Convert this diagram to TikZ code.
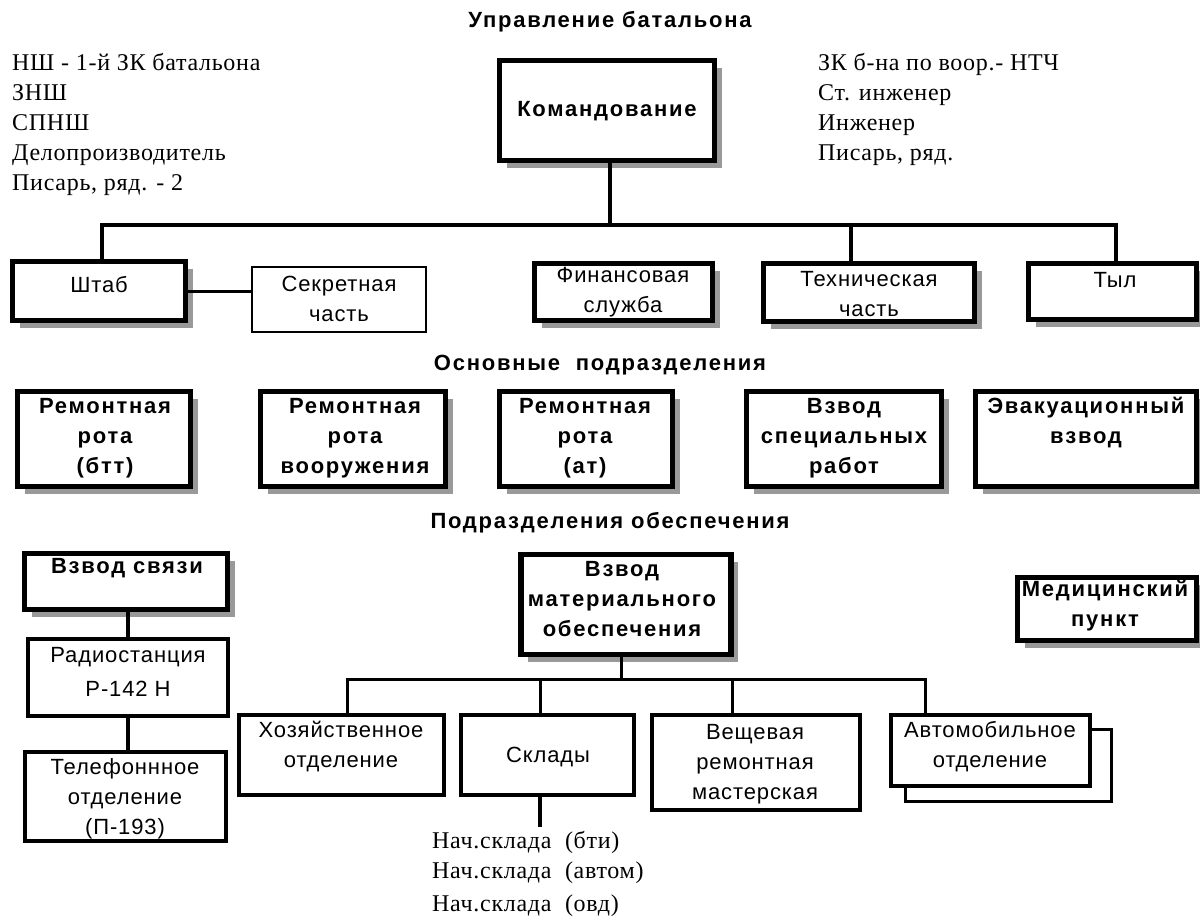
\documentclass[tikz,border=0pt]{standalone}
\usepackage{fontspec}
\setmainfont[LetterSpace=3]{Liberation Serif}
\newfontfamily\bsans[LetterSpace=8]{Liberation Sans}
\newfontfamily\rsans[LetterSpace=4]{Liberation Sans}
\usetikzlibrary{shadows}
\tikzset{
  shad/.style={drop shadow={shadow xshift=7pt, shadow yshift=-7pt, fill=black!40, opacity=1}},
  bx/.style={draw=black, fill=white, inner sep=0pt, outer sep=0pt},
  thickbox/.style={bx, line width=5pt, shad},
  midbox/.style={bx, line width=3.6pt},
  thinbox/.style={bx, line width=2.5pt},
  tb/.style={font=\bsans\bfseries\fontsize{22}{30}\selectfont, align=center, inner sep=0pt},
  tr/.style={font=\rsans\fontsize{22}{30}\selectfont, align=center, inner sep=0pt},
  ts/.style={font=\fontsize{24}{30}\selectfont, align=left, inner sep=0pt, anchor=west},
  conn/.style={draw=black, line width=3.5pt},
  connthin/.style={draw=black, line width=3pt},
}
\begin{document}
\begin{tikzpicture}[x=1pt,y=-1pt]
\useasboundingbox[fill=white] (0,0) rectangle (1200,918);

% ---------- titles ----------
\node[tb] (title1) at (610,22) {Управление батальона};
\node[tb] (title2) at (600,365) {Основные~~подразделения};
\node[tb] (title3) at (610,523) {Подразделения обеспечения};

% ---------- lists ----------
\node[ts] (listL) at (12,124) {НШ - 1-й ЗК батальона\\ЗНШ\\СПНШ\\Делопроизводитель\\Писарь, ряд. - 2};
\node[ts] (listR) at (818,109) {ЗК б-на по воор.- НТЧ\\Ст. инженер\\Инженер\\Писарь, ряд.};

% ---------- command level ----------
\node[thickbox, line width=5.5pt, minimum width=215pt, minimum height=100pt] (cmd) at (607,110.5) {};
\node[tb] (cmd-t) at (607,111) {Командование};

\node[thickbox, line width=5.5pt, minimum width=173pt, minimum height=59pt] (shtab) at (99,291) {};
\node[tr] (shtab-t) at (99,285) {Штаб};
\node[thinbox, minimum width=174pt, minimum height=65pt] (sekr) at (339,299.5) {};
\node[tr] (sekr-t) at (339,299) {Секретная\\часть};
\node[thickbox, minimum width=178pt, minimum height=57pt] (fin) at (623.5,292) {};
\node[tr] (fin-t) at (623,292) {Финансовая\\служба};
\node[thickbox, minimum width=211pt, minimum height=58pt] (tech) at (869,292.5) {};
\node[tr] (tech-t) at (869,294) {Техническая\\часть};
\node[thickbox, minimum width=168pt, minimum height=56pt] (tyl) at (1112.5,291.5) {};
\node[tr] (tyl-t) at (1115,280) {Тыл};

% connectors, command level
\coordinate (bus1) at (0,225);
\coordinate (dc) at ([xshift=3pt]cmd.south);
\coordinate (d1) at ([xshift=3pt]shtab.north);
\coordinate (d3) at ([xshift=-18pt]tech.north);
\coordinate (d4) at ([xshift=3.5pt]tyl.north);
\draw[conn] (dc) -- (dc |- bus1);
\draw[conn] (d1) -- (d1 |- bus1) -- (d4 |- bus1) -- (d4);
\draw[conn] (d3) -- (d3 |- bus1);
\draw[connthin] (shtab.east) -- (shtab.east -| sekr.west);

% ---------- main subunits ----------
\node[thickbox, minimum width=173pt, minimum height=95pt] (r1) at (104,439) {};
\node[tb] (r1-t) at (105,438) {Ремонтная\\рота\\(бтт)};
\node[thickbox, minimum width=185pt, minimum height=95pt] (r2) at (353,439) {};
\node[tb] (r2-t) at (355,438) {Ремонтная\\рота\\вооружения};
\node[thickbox, minimum width=173pt, minimum height=95pt] (r3) at (586,439) {};
\node[tb] (r3-t) at (585,438) {Ремонтная\\рота\\(ат)};
\node[thickbox, minimum width=195pt, minimum height=95pt] (r4) at (844,439) {};
\node[tb] (r4-t) at (844,438) {Взвод\\специальных\\работ};
\node[thickbox, minimum width=221pt, minimum height=95pt] (r5) at (1086,439) {};
\node[tb] (r5-t) at (1086,423) {Эвакуационный\\взвод};

% ---------- support subunits ----------
\node[thickbox, line width=5.5pt, minimum width=203pt, minimum height=56pt] (svyaz) at (126,581.5) {};
\node[tb] (svyaz-t) at (127,568) {Взвод связи};
\node[midbox, minimum width=200pt, minimum height=77pt] (radio) at (128,677.5) {};
\node[tr] (radio-t) at (128,672) {Радиостанция\\[4pt]Р-142 Н};
\node[midbox, line width=4pt, minimum width=201pt, minimum height=89pt] (tel) at (125.5,796.5) {};
\node[tr] (tel-t) at (125,799) {Телефоннное\\отделение\\(П-193)};

\node[thickbox, line width=5.5pt, minimum width=210pt, minimum height=100pt] (mat) at (626,604.5) {};
\node[tb] (mat-t) at (622,599) {Взвод\\материального\\обеспечения};

\node[thickbox, minimum width=179pt, minimum height=63pt] (med) at (1107,609) {};
\node[tb] (med-t) at (1105,606) {Медицинский\\пункт};

\node[midbox, line width=4pt, minimum width=205pt, minimum height=80pt] (hoz) at (341.5,755) {};
\node[tr] (hoz-t) at (341,747) {Хозяйственное\\отделение};
\node[midbox, minimum width=173pt, minimum height=80pt] (sklad) at (547.5,755) {};
\node[tr] (sklad-t) at (548,757) {Склады};
\node[midbox, minimum width=208pt, minimum height=95pt] (vesh) at (756,762.5) {};
\node[tr] (vesh-t) at (755,764) {Вещевая\\ремонтная\\мастерская};
\node[thinbox, line width=3pt, minimum width=206pt, minimum height=72pt] (avtoback) at (1008.5,765.5) {};
\node[midbox, line width=4pt, minimum width=199pt, minimum height=71pt] (avto) at (990.5,750.5) {};
\node[tr] (avto-t) at (990,747) {Автомобильное\\отделение};

% connectors, support level
\draw[conn] (svyaz.south -| radio.north) -- (radio.north);
\draw[conn] (radio.south) -- (radio.south |- tel.north);

\coordinate (bus3) at (0,679);
\coordinate (dm) at ([xshift=-5pt]mat.south);
\coordinate (e1) at ([xshift=5.5pt]hoz.north);
\coordinate (e2) at ([xshift=-7.5pt]sklad.north);
\coordinate (e3) at ([xshift=-24pt]vesh.north);
\coordinate (e4) at ([xshift=-65.5pt]avto.north);
\draw[connthin] (dm) -- (dm |- bus3);
\draw[connthin] (e1) -- (e1 |- bus3) -- (e4 |- bus3) -- (e4);
\draw[connthin] (e2) -- (e2 |- bus3);
\draw[connthin] (e3) -- (e3 |- bus3);

\coordinate (sk) at ([xshift=-7.5pt]sklad.south);
\coordinate (skend) at (540,827);
\draw[conn, line width=4.5pt] (sk) -- (sk |- skend);

\node[ts] (nach) at (432,874) {Нач.склада~~(бти)\\Нач.склада~~(автом)\\[3pt]Нач.склада~~(овд)};
\end{tikzpicture}
\end{document}
